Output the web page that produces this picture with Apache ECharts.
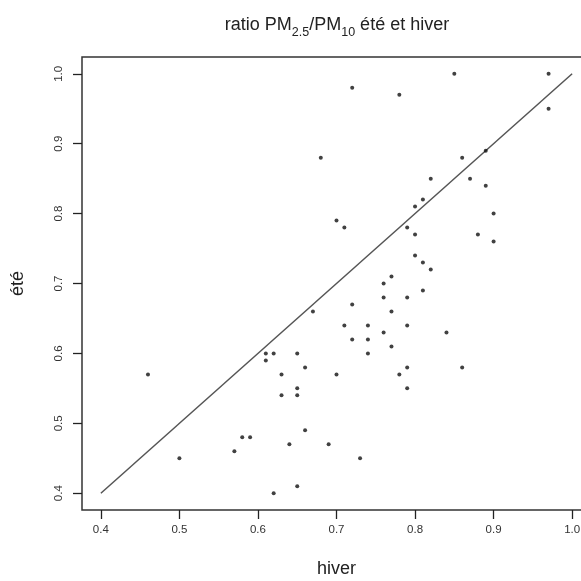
<!DOCTYPE html>
<html>
<head>
<meta charset="utf-8">
<script src="https://cdn.jsdelivr.net/npm/echarts@6/dist/echarts.min.js"></script>
<style>html,body{margin:0;padding:0;background:#fff}#c{width:581px;height:581px}</style>
</head>
<body>
<div id="c"></div>
<script>
var hiver = [0.85,0.97,0.72,0.78,0.97,0.68,0.89,0.86,0.82,0.87,0.89,0.81,0.80,0.90,0.70,0.71,0.79,0.80,0.88,0.90,
  0.80,0.81,0.82,0.77,0.76,0.81,0.76,0.79,0.72,0.67,0.77,0.71,0.74,0.79,0.76,0.84,0.72,0.74,0.77,0.74,
  0.70,0.78,0.79,0.86,0.79,0.69,0.73,0.61,0.62,0.61,0.65,0.66,0.63,0.46,0.65,0.63,0.65,0.66,0.58,0.59,
  0.64,0.57,0.50,0.65,0.62];
var ete = [1.00,1.00,0.98,0.97,0.95,0.88,0.89,0.88,0.85,0.85,0.84,0.82,0.81,0.80,0.79,0.78,0.78,0.77,0.77,0.76,
  0.74,0.73,0.72,0.71,0.70,0.69,0.68,0.68,0.67,0.66,0.66,0.64,0.64,0.64,0.63,0.63,0.62,0.62,0.61,0.60,
  0.57,0.57,0.58,0.58,0.55,0.47,0.45,0.60,0.60,0.59,0.60,0.58,0.57,0.57,0.55,0.54,0.54,0.49,0.48,0.48,
  0.47,0.46,0.45,0.41,0.40];
var ticks = [0.4,0.5,0.6,0.7,0.8,0.9,1.0];
var refLine = [[0.4,0.4],[1.0,1.0]];

var pts = hiver.map(function(v,i){return [v, ete[i]];});
var F = 'Liberation Sans, Arial, sans-serif';
var chart = echarts.init(document.getElementById('c'), null, {renderer:'canvas'});
function axisCommon(rot){
  return {
    type:'value', min:0.376, max:1.024,
    splitLine:{show:false},
    axisLine:{show:false},
    axisTick:{show:true, length:9, lineStyle:{color:'#222', width:1.3}, customValues:ticks},
    axisLabel:{customValues:ticks, formatter:function(v){return v.toFixed(1);}, fontSize:11.5, color:'#333', fontFamily:F, rotate:rot, margin: rot ? 17 : 14}
  };
}
var xa = axisCommon(0);
xa.name = 'hiver'; xa.nameLocation='middle'; xa.nameGap=50; xa.nameTextStyle={fontSize:18, color:'#222', fontFamily:F};
var ya = axisCommon(90);
ya.name = 'été'; ya.nameLocation='middle'; ya.nameGap=55; ya.nameTextStyle={fontSize:18, color:'#222', fontFamily:F};
chart.setOption({
  animation:false,
  backgroundColor:'#fff',
  title:{
    text:'{a|ratio PM}{s|2.5}{a|/PM}{s|10}{a| été et hiver}',
    left:332, top:8, textAlign:'center',
    textStyle:{fontWeight:'normal', rich:{
      a:{fontSize:18, fontWeight:'normal', color:'#222', fontFamily:F, verticalAlign:'bottom', lineHeight:21},
      s:{fontSize:12.5, fontWeight:'normal', color:'#222', fontFamily:F, verticalAlign:'bottom', lineHeight:12, padding:[0,0,-5,0]}
    }}
  },
  grid:{left:82, top:57, width:509, bottom:71, outerBoundsMode:'none', show:true, borderColor:'#333', borderWidth:1.5, backgroundColor:'transparent', containLabel:false},
  xAxis:xa,
  yAxis:ya,
  series:[
    {type:'line', data:refLine, symbol:'none', lineStyle:{color:'#555', width:1.5}, silent:true, z:1},
    {type:'scatter', data:pts, symbolSize:4, itemStyle:{color:'#111'}, z:2}
  ]
});
</script>
</body>
</html>
